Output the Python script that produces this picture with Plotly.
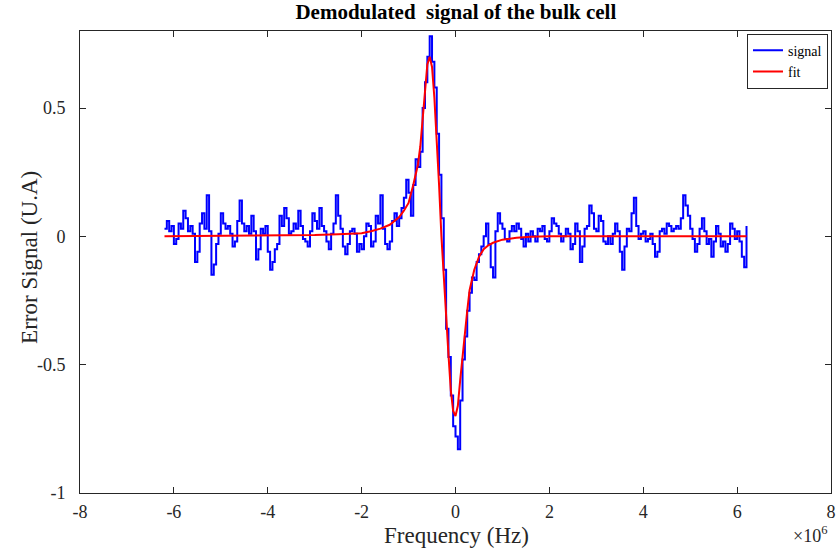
import numpy as np
import plotly.graph_objects as go

# ---- data ----
freq_start_mhz = -6.2
freq_step_mhz = 0.05
signal_vals = [
    0.03, 0.06, 0.02, 0.04, -0.03, -0.01, 0.05, 0.03, 0.10, 0.07,
    0.02, 0.04, 0.01, -0.10, -0.06, 0.05, 0.09, 0.03, 0.16, 0.02,
    -0.15, -0.11, -0.03, 0.01, 0.09, 0.05, 0.03, 0.04, 0.01, -0.04,
    -0.02, 0.06, 0.14, 0.05, 0.02, 0.04, 0.01, 0.08, 0.02, -0.09,
    -0.05, 0.03, 0.01, 0.04, -0.06, -0.13, -0.10, -0.05, -0.03, 0.08,
    0.04, 0.11, 0.07, 0.01, 0.02, 0.05, 0.03, 0.10, 0.04, -0.01,
    -0.02, -0.04, 0.02, 0.09, 0.06, 0.03, 0.11, 0.04, 0.02, -0.02,
    -0.05, 0.01, 0.05, 0.16, 0.08, 0.03, -0.04, -0.07, -0.03, 0.02,
    0.03, 0.01, -0.06, -0.03, -0.05, 0.00, 0.05, 0.04, -0.04, -0.02,
    0.08, 0.05, 0.16, 0.03, -0.03, -0.05, -0.02, 0.06, 0.09, 0.04,
    0.07, 0.11, 0.15, 0.22, 0.17, 0.08, 0.20, 0.30, 0.27, 0.33,
    0.50, 0.60, 0.70, 0.78, 0.68, 0.58, 0.40, 0.24, 0.07, -0.13,
    -0.36, -0.47, -0.62, -0.74, -0.78, -0.83, -0.64, -0.48, -0.39, -0.29,
    -0.22, -0.16, -0.17, -0.10, -0.07, -0.04, 0.00, 0.05, -0.03, -0.12,
    -0.16, 0.02, 0.09, 0.05, 0.03, -0.01, -0.02, 0.02, 0.04, 0.02,
    0.05, 0.03, -0.01, -0.04, 0.01, -0.02, 0.02, 0.00, -0.02, 0.03,
    0.02, 0.04, -0.01, -0.02, 0.02, 0.07, 0.05, 0.04, 0.01, -0.02,
    0.00, 0.03, 0.01, -0.05, -0.03, 0.05, 0.02, -0.10, -0.04, 0.03,
    0.04, 0.12, 0.09, 0.03, 0.02, 0.08, 0.06, -0.02, -0.03, 0.00,
    -0.03, 0.01, 0.05, 0.02, -0.06, -0.13, -0.04, 0.03, 0.02, 0.09,
    0.15, 0.04, -0.01, 0.01, 0.02, -0.02, -0.01, 0.01, -0.03, -0.08,
    -0.06, 0.02, 0.03, 0.01, 0.05, 0.04, 0.02, 0.03, 0.04, 0.03,
    0.07, 0.16, 0.12, 0.08, 0.03, -0.01, -0.06, -0.03, 0.03, 0.07,
    0.02, -0.03, -0.01, -0.08, -0.02, 0.04, 0.01, -0.04, -0.02, -0.06,
    -0.03, 0.05, 0.03, -0.01, 0.02, -0.02, -0.08, -0.12, 0.04,
]

fit_x_mhz = [-6.2, -5.0, -4.0, -3.0, -2.5, -2.0, -1.8, -1.6, -1.4, -1.2,
             -1.1, -1.0, -0.9, -0.8, -0.75, -0.7, -0.65, -0.6, -0.55, -0.5,
             -0.45, -0.4, -0.35, -0.3, -0.25, -0.2, -0.15, -0.1, -0.05, 0.0,
             0.05, 0.1, 0.15, 0.2, 0.25, 0.3, 0.4, 0.5, 0.6, 0.7,
             0.8, 1.0, 1.3, 1.6, 2.0, 3.0, 4.0, 5.0, 6.2]
fit_vals = [0.0, 0.001, 0.002, 0.005, 0.008, 0.012, 0.02, 0.03, 0.045, 0.075,
            0.10, 0.13, 0.20, 0.28, 0.35, 0.46, 0.58, 0.67, 0.70, 0.66,
            0.54, 0.38, 0.20, 0.0, -0.17, -0.32, -0.46, -0.60, -0.68, -0.70,
            -0.66, -0.56, -0.46, -0.38, -0.29, -0.21, -0.13, -0.08, -0.05, -0.035,
            -0.025, -0.013, -0.006, -0.002, 0.0, 0.0, 0.0, 0.0, 0.0]

x_ticks = [-8, -6, -4, -2, 0, 2, 4, 6, 8]
y_ticks = [-1, -0.5, 0, 0.5]
y_tick_text = ["-1", "-0.5", "0", "0.5"]

# ---- figure ----
sig_x = (freq_start_mhz + freq_step_mhz * np.arange(len(signal_vals))) * 1e6
fit_x = np.array(fit_x_mhz) * 1e6

SERIF = "Liberation Serif, Times New Roman, serif"
INK = "#262626"

fig = go.Figure()
fig.add_trace(go.Scatter(x=sig_x, y=signal_vals, mode="lines", name="signal",
                         line=dict(color="#0000FF", width=2, shape="hv")))
fig.add_trace(go.Scatter(x=fit_x, y=fit_vals, mode="lines", name="fit",
                         line=dict(color="#FF0000", width=2)))

axis_common = dict(showline=True, mirror="ticks", linecolor=INK, linewidth=1,
                   ticks="inside", ticklen=6, tickcolor=INK, showgrid=False,
                   zeroline=False, automargin=False,
                   tickfont=dict(family=SERIF, size=18, color=INK))

fig.update_layout(
    width=838, height=551,
    paper_bgcolor="white", plot_bgcolor="white",
    margin=dict(l=80, r=7, t=31, b=58),
    title=dict(text="<b>Demodulated  signal of the bulk cell</b>", x=0.544, xanchor="center",
               y=0.979, yanchor="middle", font=dict(family=SERIF, size=21, color="black")),
    xaxis=dict(range=[-8e6, 8e6], tickvals=[v * 1e6 for v in x_ticks],
               ticktext=[str(v) for v in x_ticks], ticklabelstandoff=2, **axis_common),
    yaxis=dict(range=[-1, 0.8], tickvals=y_ticks, ticktext=y_tick_text,
               ticklabelstandoff=10, **axis_common),
    legend=dict(x=0.996, xanchor="right", y=0.994, yanchor="top",
                bgcolor="white", bordercolor=INK, borderwidth=1,
                font=dict(family=SERIF, size=14, color="black"),
                itemwidth=30, tracegroupgap=0),
    showlegend=True,
)

# axis titles placed as annotations for exact positioning
fig.add_annotation(text="Frequency (Hz)", xref="paper", yref="paper", x=0.5007, y=-0.093,
                   xanchor="center", yanchor="middle", showarrow=False,
                   font=dict(family=SERIF, size=23, color=INK))
fig.add_annotation(text="Error Signal (U.A)", xref="paper", yref="paper", x=-0.0666, y=0.511,
                   xanchor="center", yanchor="middle", textangle=-90, showarrow=False,
                   font=dict(family=SERIF, size=23, color=INK))
fig.add_annotation(text="×10<sup>6</sup>", xref="paper", yref="paper", x=0.997, y=-0.12,
                   xanchor="right", yanchor="bottom", showarrow=False,
                   font=dict(family=SERIF, size=18, color=INK))

fig.write_html("out.html", config={"displayModeBar": False},
               post_script="document.body.style.margin='0px';")
